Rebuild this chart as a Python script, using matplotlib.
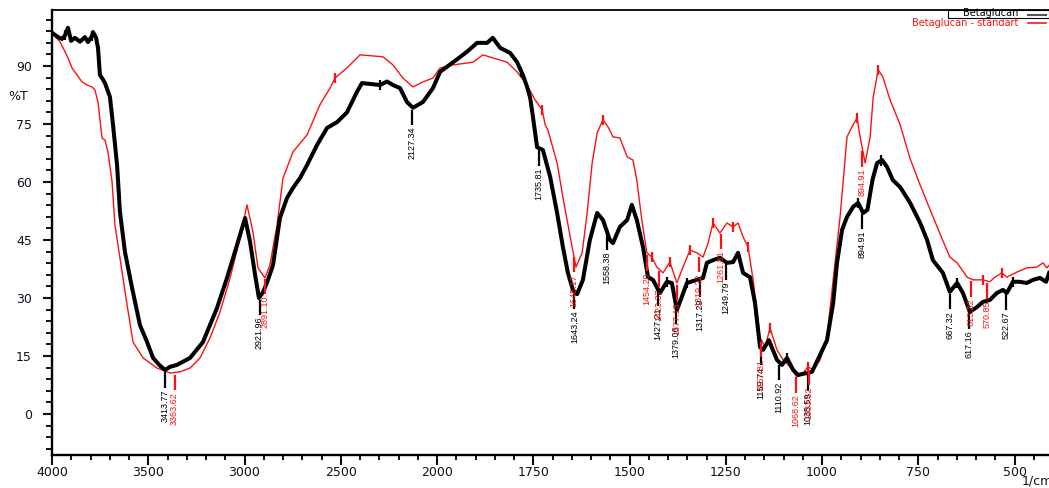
import numpy as np
import matplotlib
matplotlib.use("Agg")
import matplotlib.pyplot as plt
from matplotlib.ticker import FixedLocator, NullFormatter
from matplotlib.lines import Line2D
from matplotlib.patches import Rectangle
from matplotlib import font_manager

# ---------------- data ----------------
black_wn = [4000, 3969, 3948, 3932, 3917, 3901, 3881, 3855, 3829, 3813, 3792, 3787, 3771, 3761,
            3751, 3735, 3725, 3699, 3683, 3662, 3647, 3621, 3584, 3543, 3506, 3475, 3439, 3413,
            3387, 3351, 3283, 3216, 3143, 3091, 3039, 2997, 2971, 2945, 2925, 2904, 2883, 2852,
            2816, 2779, 2748, 2712, 2675, 2623, 2571, 2519, 2468, 2416, 2390, 2296, 2260, 2229,
            2192, 2156, 2125, 2073, 2021, 1992, 1958, 1922, 1896, 1870, 1855, 1836, 1810, 1792,
            1777, 1766, 1758, 1751, 1740, 1725, 1706, 1688, 1673, 1660, 1647, 1636, 1621, 1603,
            1584, 1569, 1551, 1543, 1525, 1506, 1494, 1481, 1465, 1452, 1439, 1421, 1403, 1390,
            1377, 1364, 1351, 1325, 1309, 1299, 1283, 1265, 1247, 1231, 1218, 1205, 1187, 1174,
            1161, 1153, 1138, 1117, 1104, 1091, 1075, 1062, 1039, 1026, 1005, 987, 971, 961,
            948, 935, 919, 906, 893, 882, 869, 857, 844, 831, 816, 797, 771, 745, 727, 712,
            686, 668, 649, 634, 616, 597, 582, 564, 546, 530, 520, 504, 486, 468, 452, 434,
            418, 410]
black_t = [98.6, 97.5, 97.0, 98.0, 99.9, 96.5, 97.3, 96.3, 97.5, 96.2, 97.8, 98.8, 97.3, 94.7,
           87.7, 86.5, 85.6, 82.0, 74.8, 64.4, 52.3, 41.9, 32.6, 23.0, 18.6, 14.5, 12.5, 11.4,
           12.2, 12.7, 14.5, 18.6, 27.4, 35.2, 43.7, 50.7, 44.5, 36.0, 30.0, 31.5, 34.0, 38.5,
           50.7, 55.9, 58.5, 61.0, 64.4, 69.6, 74.0, 75.5, 78.0, 83.3, 85.6, 85.1, 86.0, 85.1,
           84.3, 80.7, 79.2, 80.7, 84.3, 88.5, 91.0, 93.7, 96.0, 96.0, 97.3, 94.7, 93.4, 91.0,
           87.7, 84.6, 81.8, 77.0, 69.0, 68.3, 61.3, 52.0, 43.2, 36.5, 32.1, 31.0, 34.7, 45.0,
           52.0, 50.2, 45.0, 44.2, 48.4, 50.2, 54.1, 50.2, 43.2, 35.4, 34.7, 31.3, 34.2, 33.9,
           26.9, 30.3, 33.9, 34.7, 35.2, 39.1, 39.8, 40.4, 39.1, 39.3, 41.7, 36.5, 35.4, 28.7,
           17.3, 16.6, 19.1, 14.0, 12.7, 14.5, 11.4, 10.1, 10.6, 10.9, 15.3, 19.1, 28.7, 39.1,
           47.6, 51.0, 53.6, 54.6, 52.0, 52.8, 60.5, 64.9, 65.7, 63.9, 60.5, 58.7, 54.6, 49.4,
           45.0, 39.8, 36.5, 31.6, 33.9, 31.3, 26.4, 27.7, 29.0, 29.5, 31.3, 32.1, 31.3, 34.2,
           34.2, 33.9, 34.7, 35.2, 34.2, 36.5]

red_wn = [4000, 3958, 3932, 3917, 3896, 3870, 3844, 3818, 3792, 3777, 3761, 3740, 3725, 3709,
          3688, 3673, 3647, 3610, 3579, 3527, 3455, 3387, 3335, 3283, 3231, 3179, 3127, 3075,
          3023, 2987, 2956, 2930, 2894, 2868, 2831, 2800, 2748, 2675, 2608, 2556, 2530, 2468,
          2400, 2281, 2229, 2177, 2125, 2073, 2021, 1992, 1958, 1906, 1881, 1855, 1818, 1792,
          1766, 1745, 1727, 1719, 1712, 1688, 1673, 1654, 1639, 1623, 1610, 1597, 1584, 1569,
          1556, 1543, 1525, 1506, 1491, 1481, 1468, 1455, 1442, 1429, 1413, 1395, 1377, 1361,
          1343, 1325, 1309, 1296, 1283, 1265, 1247, 1231, 1218, 1205, 1192, 1179, 1161, 1148,
          1135, 1117, 1101, 1083, 1065, 1049, 1036, 1023, 1005, 987, 971, 953, 935, 922, 909,
          901, 888, 875, 867, 854, 842, 823, 797, 771, 745, 719, 693, 668, 649, 623, 608, 582,
          564, 551, 533, 520, 494, 468, 442, 426, 416, 410]
red_t = [98.6, 96.2, 93.7, 92.1, 89.5, 87.7, 85.9, 85.1, 84.6, 83.8, 80.7, 71.4, 70.9, 67.8,
         60.0, 48.9, 40.4, 28.2, 18.6, 14.5, 11.9, 10.6, 10.9, 11.9, 14.5, 19.7, 26.4, 35.2,
         45.5, 54.1, 47.1, 37.8, 35.2, 38.5, 48.9, 61.0, 67.8, 72.2, 80.0, 84.3, 86.9, 89.5,
         92.9, 92.4, 90.3, 86.9, 84.6, 85.9, 86.9, 89.5, 90.3, 91.0, 92.9, 92.1, 91.0, 88.5,
         85.1, 81.2, 78.7, 74.8, 73.5, 64.9, 56.1, 45.8, 38.0, 41.7, 52.0, 64.9, 72.7, 76.1,
         74.3, 71.7, 71.4, 66.5, 65.7, 60.5, 50.2, 41.7, 40.6, 38.0, 36.5, 39.3, 33.9, 38.0,
         42.4, 41.7, 40.6, 44.2, 49.4, 46.8, 49.4, 48.4, 49.4, 45.8, 43.2, 34.7, 19.9, 17.3,
         22.2, 16.6, 14.0, 12.2, 9.6, 10.6, 12.2, 11.4, 14.0, 19.9, 34.7, 51.0, 71.7, 74.3, 76.6,
         71.7, 64.9, 71.7, 82.0, 89.0, 87.2, 81.2, 74.8, 66.0, 59.2, 52.8, 46.5, 40.6, 39.1,
         35.4, 34.7, 34.7, 34.2, 35.4, 36.5, 35.4, 36.7, 37.8, 38.0, 39.1, 37.8, 38.5]

black_labels = ["3413.77", "2921.96", "2127.34", "1735.81", "1643.24", "1558.38", "1427.21",
                "1379.06", "1317.29", "1249.79", "1159.74", "1110.92", "1035.59", "894.91",
                "667.32", "617.16", "522.67"]
red_labels = ["3363.62", "2891.10", "1645.17", "1454.20", "1423.37", "1377.13", "1319.22",
              "1261.81", "1157.81", "1068.62", "1033.52", "894.91", "613.32", "570.85"]
black_marks = [3932, 3792, 2296, 1781, 1403, 1351, 1091, 906, 846, 649, 504]
red_marks = [2530, 1727, 1569, 1442, 1395, 1343, 1283, 1231, 1192, 1135, 1036, 909, 854, 582, 533]

x_major = [4000, 3500, 3000, 2500, 2000, 1750, 1500, 1250, 1000, 750, 500]
y_major = [0, 15, 30, 45, 60, 75, 90]

# ---------------- figure ----------------
W, H = 1049, 488
fig = plt.figure(figsize=(W / 100, H / 100), dpi=100)
ax = fig.add_axes([52 / W, 33 / H, 1001 / W, 445 / H])


def fwd(w):
    w = np.asarray(w, float)
    return np.where(w >= 2000, w, 2 * w - 2000)


def inv(f):
    f = np.asarray(f, float)
    return np.where(f >= 2000, f, (f + 2000) / 2)


ax.set_xscale("function", functions=(fwd, inv))
ax.set_xlim(4000, 400)
ax.set_ylim(-10.6, 104.5)

names = {f.name for f in font_manager.fontManager.ttflist}
ann_family = "Liberation Sans Narrow" if "Liberation Sans Narrow" in names else "Liberation Sans"

ax.plot(red_wn, red_t, color="#ff1010", lw=1.0, zorder=2)
ax.plot(black_wn, black_t, color="black", lw=2.9, zorder=3, solid_joinstyle="round")

bw = np.array(black_wn[::-1], float)
bt = np.array(black_t[::-1], float)
rw = np.array(red_wn[::-1], float)
rt = np.array(red_t[::-1], float)


def annotate(labels, wn_arr, t_arr, color, lw, z):
    for lab in labels:
        x = float(lab)
        y0 = np.interp(x, wn_arr, t_arr)
        ax.plot([x, x], [y0 - 0.6, y0 - 4.6], color=color, lw=lw, zorder=z,
                solid_capstyle="butt")
        ax.text(x, y0 - 5.0, lab, rotation=90, ha="center", va="top", color=color,
                fontsize=6.5, family=[ann_family, "DejaVu Sans"], zorder=z)


def marks(wns, wn_arr, t_arr, color, lw, z):
    for x in wns:
        y0 = np.interp(x, wn_arr, t_arr)
        ax.plot([x, x], [y0 - 1.3, y0 + 1.3], color=color, lw=lw, zorder=z,
                solid_capstyle="butt")


marks(black_marks, bw, bt, "black", 1.6, 4)
marks(red_marks, rw, rt, "#ff1010", 1.6, 4)
annotate(black_labels, bw, bt, "black", 1.6, 5)
annotate(red_labels, rw, rt, "#ff1010", 1.6, 6)

# ticks
ax.xaxis.set_major_locator(FixedLocator(x_major))
ax.set_xticklabels([str(v) for v in x_major])
minor_x = [v for v in range(3900, 2000, -100) if v not in x_major] + \
          [v for v in range(1950, 400, -50) if v not in x_major]
ax.xaxis.set_minor_locator(FixedLocator(minor_x))
ax.xaxis.set_minor_formatter(NullFormatter())
ax.yaxis.set_major_locator(FixedLocator(y_major))
ax.set_yticklabels([str(v) for v in y_major])
ax.yaxis.set_minor_locator(FixedLocator([v for v in range(-9, 104, 3) if v % 15 != 0]))
ax.yaxis.set_minor_formatter(NullFormatter())

ax.tick_params(axis="x", which="major", direction="out", length=7, width=1.5, pad=1,
               labelsize=9, colors="#111111")
ax.tick_params(axis="x", which="minor", direction="out", length=3.5, width=1.3)
ax.tick_params(axis="y", which="major", direction="out", length=6.5, width=1.5, pad=8,
               labelsize=9, colors="#111122")
ax.tick_params(axis="y", which="minor", direction="out", length=4.5, width=1.3)

for s in ("left", "bottom"):
    ax.spines[s].set_linewidth(1.7)
ax.spines["top"].set_linewidth(1.3)
ax.spines["right"].set_linewidth(1.3)

fig.text(8 / W, 1 - 97 / H, "%T", fontsize=9, va="center", ha="left", color="#111122")
fig.text(1022 / W, 1 - 481 / H, "1/cm", fontsize=9, va="center", ha="left", color="#111122")

# legend
fig.patches.append(Rectangle((948 / W, 1 - 18 / H), 101 / W, 8 / H, transform=fig.transFigure,
                             fill=False, edgecolor="black", lw=0.8))
fig.text(1018 / W, 1 - 13.5 / H, "Betaglucan", fontsize=7, ha="right", va="center",
         color="black")
fig.lines.append(Line2D([1028 / W, 1046 / W], [1 - 15 / H, 1 - 15 / H],
                        transform=fig.transFigure, color="#555555", lw=1.5))
fig.text(1018 / W, 1 - 23.5 / H, "Betaglucan - standart", fontsize=7, ha="right",
         va="center", color="#ff1010")
fig.lines.append(Line2D([1028 / W, 1046 / W], [1 - 23 / H, 1 - 23 / H],
                        transform=fig.transFigure, color="#ff1010", lw=1.2))

fig.savefig("out.png", dpi=100)
